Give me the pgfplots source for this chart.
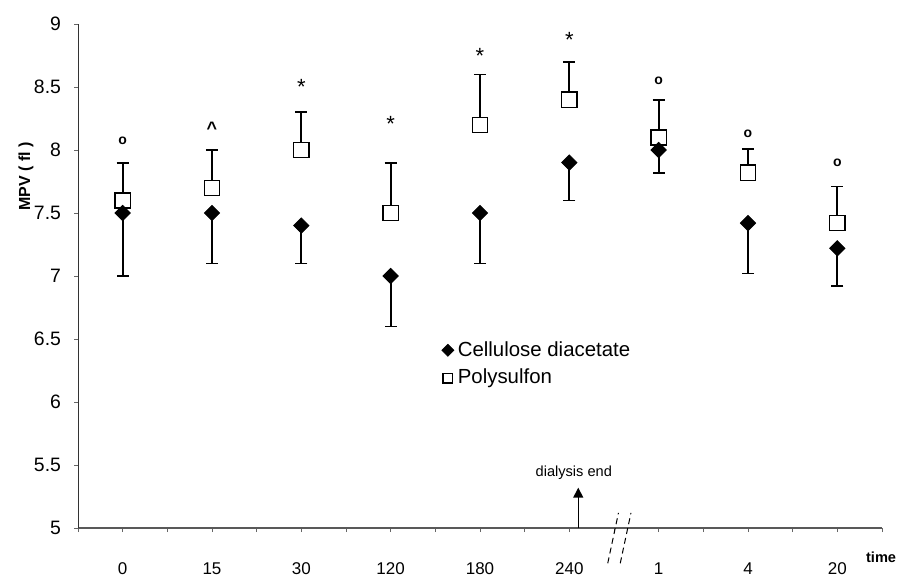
\documentclass[border=0pt]{standalone}
\usepackage{pgfplots}
\pgfplotsset{compat=1.18}
\usepackage{fontspec}
\setmainfont{Liberation Sans}
\usetikzlibrary{arrows.meta}

\begin{document}
\begin{tikzpicture}
\useasboundingbox (-39pt,-25.5pt) rectangle (409.5pt,264pt);
\begin{axis}[at={(0,0)},anchor=south west,scale only axis,
  width=402pt,height=252pt,
  xmin=0,xmax=9,ymin=5,ymax=9,clip=false,
  axis x line*=bottom,axis y line*=left,
  x axis line style={black!65,line width=0.6pt},
  y axis line style={black!80,line width=0.5pt},
  xtick={0.5,1.5,...,8.5},xticklabels={0,15,30,120,180,240,1,4,20},
  minor xtick={0,1,...,9},
  ytick={5,5.5,...,9},
  tick align=outside,major tick length=2pt,minor tick length=2pt,
  tick style={black!60,line width=0.4pt},
  /pgf/number format/assume math mode=true,
  /pgf/number format/fixed,/pgf/number format/precision=1,
  xticklabel style={font=\fontsize{8.5}{10}\selectfont,yshift=-12pt},
  yticklabel style={font=\fontsize{9.7}{11}\selectfont,anchor=east,xshift=-3pt},
  legend style={at={(axis cs:4.07,6.3)},anchor=west,draw=none,fill=none,
    font=\fontsize{10.2}{12}\selectfont,row sep=1pt,inner sep=0pt},
  legend cell align=left,reverse legend,
]
% Polysulfon: mean with upper SD
\addplot[only marks,mark=square*,mark size=3.8pt,
  mark options={fill=white,draw=black,line width=0.7pt},
  legend image post style={mark size=2.4pt},
  error bars/.cd,y dir=plus,y explicit,error mark=|,
  error bar style={line width=0.9pt,black},
  error mark options={mark size=3pt,line width=0.9pt,black}]
  coordinates {
  (0.5,7.6) +- (0,0.3)
  (1.5,7.7) +- (0,0.3)
  (2.5,8.0) +- (0,0.3)
  (3.5,7.5) +- (0,0.4)
  (4.5,8.2) +- (0,0.4)
  (5.5,8.4) +- (0,0.3)
  (6.5,8.1) +- (0,0.3)
  (7.5,7.82) +- (0,0.19)
  (8.5,7.42) +- (0,0.29)
  };
\addlegendentry{Polysulfon}
% Cellulose diacetate: mean with lower SD
\addplot[only marks,mark=square*,mark size=2.7pt,
  mark options={rotate=45,fill=black,draw=black},
  legend image post style={mark size=2.1pt},
  error bars/.cd,y dir=minus,y explicit,error mark=|,
  error bar style={line width=0.9pt,black},
  error mark options={mark size=3pt,line width=0.9pt,black}]
  coordinates {
  (0.5,7.5) +- (0,0.5)
  (1.5,7.5) +- (0,0.4)
  (2.5,7.4) +- (0,0.3)
  (3.5,7.0) +- (0,0.4)
  (4.5,7.5) +- (0,0.4)
  (5.5,7.9) +- (0,0.3)
  (6.5,8.0) +- (0,0.18)
  (7.5,7.42) +- (0,0.4)
  (8.5,7.22) +- (0,0.3)
  };
\addlegendentry{Cellulose diacetate}

% significance symbols
\node[font=\fontsize{7}{8}\selectfont\bfseries] at (axis cs:0.5,8.07) {o};
\node[font=\fontsize{9}{10}\selectfont\bfseries] at (axis cs:1.5,8.17) {\^{}};
\node[font=\fontsize{11}{12}\selectfont] at (axis cs:2.5,8.50) {*};
\node[font=\fontsize{11}{12}\selectfont] at (axis cs:3.5,8.21) {*};
\node[font=\fontsize{11}{12}\selectfont] at (axis cs:4.5,8.75) {*};
\node[font=\fontsize{11}{12}\selectfont] at (axis cs:5.5,8.87) {*};
\node[font=\fontsize{7}{8}\selectfont\bfseries] at (axis cs:6.5,8.55) {o};
\node[font=\fontsize{7}{8}\selectfont\bfseries] at (axis cs:7.5,8.13) {o};
\node[font=\fontsize{7}{8}\selectfont\bfseries] at (axis cs:8.5,7.90) {o};

% dialysis end arrow
\draw[line width=0.7pt,-{Triangle[length=5pt,width=5pt]}] (axis cs:5.6,5) -- (axis cs:5.6,5.32);
\node[font=\fontsize{7.3}{9}\selectfont] at (axis cs:5.55,5.44) {dialysis end};

% axis break
\draw[line width=0.5pt,dash pattern=on 3pt off 2pt] (axis cs:5.93,4.72) -- (axis cs:6.05,5.12);
\draw[line width=0.5pt,dash pattern=on 3pt off 2pt] (axis cs:6.07,4.72) -- (axis cs:6.19,5.12);

% axis labels
\node[font=\fontsize{7.3}{9}\selectfont\bfseries] at (axis cs:8.99,4.77) {time};
\node[font=\fontsize{8}{9}\selectfont\bfseries,rotate=90] at ([xshift=-26pt]axis cs:0,7.79) {MPV ( fl )};
\end{axis}
\end{tikzpicture}
\end{document}
